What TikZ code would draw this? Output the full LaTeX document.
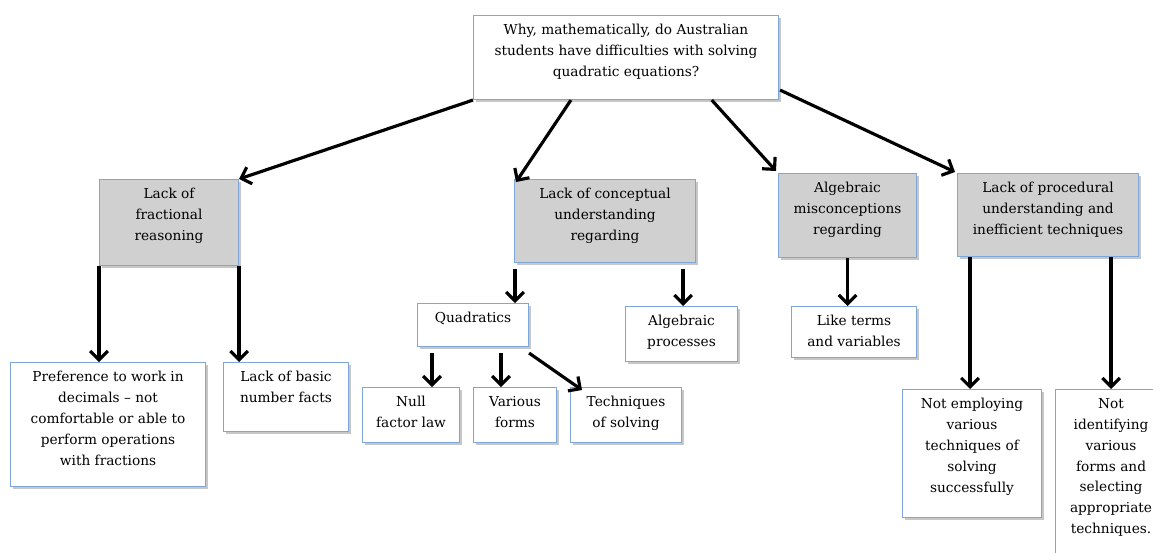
\documentclass[tikz,border=0pt]{standalone}
\usepackage{fontspec}
\setmainfont{DejaVu Serif}
\usetikzlibrary{arrows.meta,calc,shadows}
\definecolor{boxblue}{HTML}{7EA6D8}
\definecolor{boxgray}{HTML}{D0D0D0}
\tikzset{
 box/.style={draw=boxblue, line width=0.6pt, fill=white,
   drop shadow={shadow xshift=1.2pt, shadow yshift=-1.2pt, fill=black, opacity=0.22}},
 gbox/.style={box, fill=boxgray},
 arr/.style={draw=black, line width=1.8pt, -{Straight Barb[length=5pt,width=10pt]}},
}
\newcommand\bx[7]{%
 \pgfmathsetlengthmacro\bw{(#5-#3)*0.02cm}%
 \pgfmathsetlengthmacro\bh{(#6-#4)*0.02cm}%
 \pgfmathsetlengthmacro\ph{(#6-#4)*0.02cm-10pt}%
 \node[#1, anchor=north west, inner sep=0pt, minimum width=\bw, minimum height=\bh] (#2) at (#3,#4)
   {\parbox[c][\ph][t]{\bw}{\centering\fontsize{7.8}{11.9}\selectfont #7}};%
}
\begin{document}
\begin{tikzpicture}[x=0.02cm, y=-0.02cm]
\useasboundingbox (0,0) rectangle (1153,552);
\clip (0,0) rectangle (1153,552);
\bx{box}{top}{473}{15}{778}{99}{Why, mathematically, do Australian\\students have difficulties with solving\\quadratic equations?}
\bx{gbox}{frac}{99}{179}{238}{265}{Lack of\\fractional\\reasoning}
\bx{gbox}{concept}{514}{179}{695}{262}{Lack of conceptual\\understanding\\regarding}
\bx{gbox}{alg}{778}{173}{916}{257}{Algebraic\\misconceptions\\regarding}
\bx{gbox}{proc}{957}{173}{1138}{256}{Lack of procedural\\understanding and\\inefficient techniques}
\bx{box}{pref}{10}{362}{205}{486}{Preference to work in\\decimals – not\\comfortable or able to\\perform operations\\with fractions}
\bx{box}{basic}{223}{362}{348}{431}{Lack of basic\\number facts}
\bx{box}{quad}{417}{303}{528}{346}{Quadratics}
\bx{box}{algp}{625}{306}{737}{361}{Algebraic\\processes}
\bx{box}{like}{791}{306}{916}{357}{Like terms\\and variables}
\bx{box}{null}{362}{387}{459}{442}{Null\\factor law}
\bx{box}{various}{473}{387}{556}{442}{Various\\forms}
\bx{box}{tech}{570}{387}{681}{442}{Techniques\\of solving}
\bx{box}{notemp}{902}{389}{1041}{517}{Not employing\\various\\techniques of\\solving\\successfully}
\bx{box}{notid}{1055}{389}{1166}{562}{Not\\identifying\\various\\forms and\\selecting\\appropriate\\techniques.}
% start points of the connectors
\coordinate (cq) at ($(concept.south west)+(1,6)$);
\coordinate (ca) at ($(concept.south east)+(-13,6)$);
\coordinate (pe) at ($(proc.south west)+(13,0)$);
\coordinate (pi) at ($(proc.south east)+(-28,0)$);
\coordinate (qn) at ($(quad.south west)+(15,6)$);
\coordinate (qv) at ($(quad.south west)+(84,6)$);
\coordinate (qt) at ($(quad.south east)+(0,6)$);
% connectors from the question
\draw[arr] (top.south west) -- (frac.north east);
\draw[arr] ($(top.south west)!0.32!(top.south east)$) -- ($(concept.north west)+(2,3)$);
\draw[arr] ($(top.south west)!0.78!(top.south east)$) -- ($(alg.north west)+(-2,-2)$);
\draw[arr] ($(top.south east)+(1,-10)$) -- ($(proc.north west)+(-2,-1)$);
% fractional
\draw[arr] (frac.south west) -- (frac.south west |- pref.north);
\draw[arr] (frac.south east) -- (frac.south east |- basic.north);
% conceptual
\draw[arr] (cq) -- (cq |- quad.north);
\draw[arr] (ca) -- (ca |- algp.north);
% algebraic
\draw[arr] (alg.south) -- (alg.south |- like.north);
% procedural
\draw[arr] (pe) -- (pe |- notemp.north);
\draw[arr] (pi) -- (pi |- notid.north);
% quadratics
\draw[arr] (qn) -- (qn |- null.north);
\draw[arr] (qv) -- (qv |- various.north);
\draw[arr] (qt) -- ($(tech.north west)+(12,3)$);
\end{tikzpicture}
\end{document}
